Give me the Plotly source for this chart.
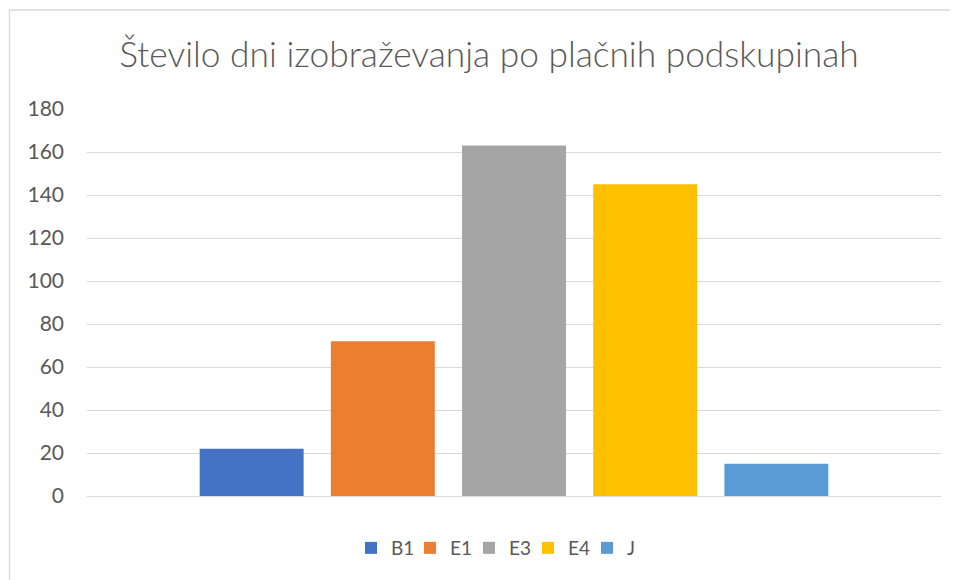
import plotly.graph_objects as go

series_names = ["B1", "E1", "E3", "E4", "J"]
series_values = [22, 72, 163, 145, 15]
series_colors = ["#4472C4", "#ED7D31", "#A5A5A5", "#FFC000", "#5B9BD5"]
category = [""]
title_text = "Število dni izobraževanja po plačnih podskupinah"
y_ticks = [0, 20, 40, 60, 80, 100, 120, 140, 160, 180]

FONT = "Lato"
fig = go.Figure()
for name, val, col in zip(series_names, series_values, series_colors):
    fig.add_trace(go.Bar(x=category, y=[val], name=name, marker_color=col,
                         marker_line_width=0))

# page is offset by the 8px body margin
OFF = 8
W, H = 958 - OFF, 580 - OFF
L, T = 87 - OFF, 109 - OFF
R = W - (941 - OFF)
B = H - (496 - OFF)
pw, ph = W - L - R, H - T - B

def px2x(px):
    return (px - OFF - L) / pw

def py2y(py):
    return (H - B - (py - OFF)) / ph

fig.update_layout(
    width=W, height=H,
    margin=dict(l=L, r=R, t=T, b=B, pad=0),
    paper_bgcolor="white", plot_bgcolor="white",
    barmode="group", bargap=0.232, bargroupgap=0.2076,
    title=dict(text=title_text, x=(489 - OFF) / W, xanchor="center", xref="container",
               y=1 - (55 - OFF) / H, yanchor="middle", yref="container",
               font=dict(family=FONT, size=35.3, color="#595959", weight=300)),
    showlegend=True,
    legend=dict(orientation="h", x=(498.5 - OFF) / W, xref="container", xanchor="center",
                y=1 - (548 - OFF) / H, yref="container", yanchor="middle",
                font=dict(family=FONT, size=19, color="#595959"),
                itemwidth=30, traceorder="normal", entrywidth=14, entrywidthmode="pixels"),
    xaxis=dict(showgrid=False, showticklabels=False, showline=False, zeroline=False),
    yaxis=dict(range=[0, 180], tickvals=y_ticks, showgrid=True, gridcolor="#D9D9D9",
               gridwidth=1.3, zeroline=True, zerolinecolor="#D9D9D9", zerolinewidth=1.3,
               showline=False, ticks="", ticklabelstandoff=22,
               tickfont=dict(family=FONT, size=21, color="#595959")),
    shapes=[dict(type="rect", xref="paper", yref="paper",
                 x0=px2x(9.5), x1=px2x(975), y0=py2y(600), y1=py2y(10),
                 line=dict(color="#D9D9D9", width=1.3), fillcolor="rgba(0,0,0,0)",
                 layer="below")],
)

fig.write_html("out.html")
